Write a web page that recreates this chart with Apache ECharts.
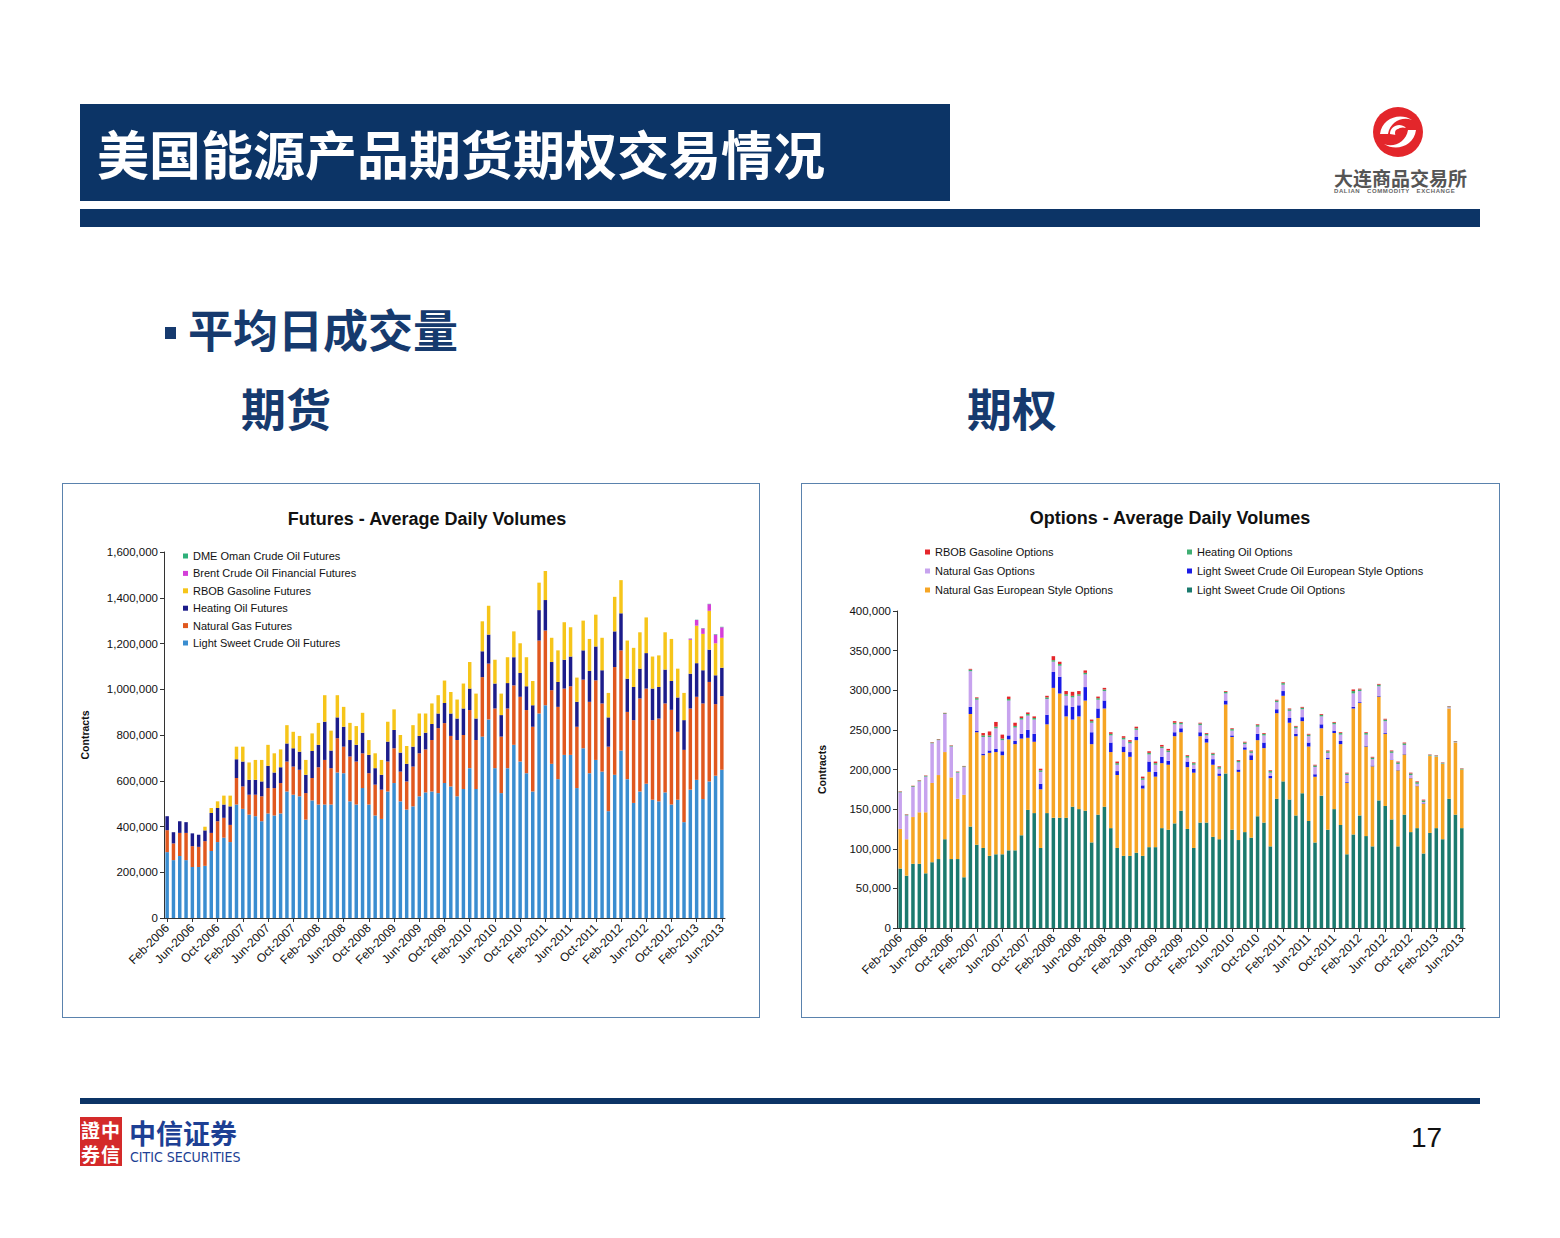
<!DOCTYPE html>
<html><head><meta charset="utf-8">
<script src="https://cdn.jsdelivr.net/npm/echarts/dist/echarts.min.js"></script>
<style>
body{margin:0;background:#fff;width:1560px;height:1238px;position:relative;overflow:hidden;font-family:"Liberation Sans",Arial,sans-serif}
.abs{position:absolute}
.cjk{font-family:"Noto Sans CJK SC",sans-serif}
#hdr{left:80px;top:104px;width:870px;height:97px;background:#0c3466}
#hdrTitle{left:97px;top:104px;height:97px;line-height:97px;color:#fff;font-size:52px;font-weight:700;white-space:nowrap}
#bar1{left:80px;top:209px;width:1400px;height:18px;background:#0c3466}
#bul{left:165px;top:327px;width:11px;height:12px;background:#163a6e}
.sub{color:#163a6e;font-size:45px;line-height:45px;font-weight:700;white-space:nowrap}
.frame{border:1.5px solid #5a82ad;box-sizing:border-box}
#foot{left:80px;top:1098px;width:1400px;height:6px;background:#0c3466}
</style></head><body>
<div id="hdr" class="abs"></div>
<div id="hdrTitle" class="abs cjk">美国能源产品期货期权交易情况</div>
<div id="bar1" class="abs"></div>
<svg class="abs" style="left:1370px;top:104px" width="56" height="56" viewBox="0 0 56 56">
<circle cx="28" cy="28" r="25" fill="#e3262b"/>
<path d="M10 30 C12 14 30 8 42 16 C32 12 20 18 18 30 Z" fill="#fff"/>
<path d="M46 26 C44 42 26 48 14 40 C24 44 36 38 38 26 Z" fill="#fff"/>
<path d="M20 30 C20 22 30 18 36 24 C30 22 25 26 26 31 Z" fill="#fff"/>
<circle cx="29" cy="29" r="4" fill="#e3262b"/>
</svg>
<div class="abs cjk" style="left:1334px;top:168px;font-size:19px;line-height:19px;font-weight:700;color:#555;white-space:nowrap">大连商品交易所</div>
<div class="abs" style="left:1334px;top:188px;font-size:6px;line-height:6px;font-weight:700;color:#666;white-space:nowrap;letter-spacing:0.6px">DALIAN&nbsp;&nbsp;&nbsp;COMMODITY&nbsp;&nbsp;&nbsp;EXCHANGE</div>
<div id="bul" class="abs"></div>
<div class="abs cjk sub" style="left:188px;top:306px">平均日成交量</div>
<div class="abs cjk sub" style="left:241px;top:385px">期货</div>
<div class="abs cjk sub" style="left:967px;top:385px">期权</div>
<div id="c1" class="abs frame" style="left:62px;top:483px;width:698px;height:535px"></div>
<div id="c2" class="abs frame" style="left:801px;top:483px;width:699px;height:535px"></div>
<div id="foot" class="abs"></div>
<div class="abs" style="left:80px;top:1117px;width:42px;height:49px;background:#d42a2a"></div>
<div class="abs cjk" style="left:81px;top:1118px;width:42px;font-size:19px;line-height:24px;color:#fff;font-weight:700;letter-spacing:1px">證中<br>券信</div>
<div class="abs cjk" style="left:129px;top:1119px;font-size:27px;line-height:28px;font-weight:700;color:#1d3f94;white-space:nowrap">中信证券</div>
<div class="abs" style="left:130px;top:1150px;font-size:14px;line-height:15px;color:#1d3f94;white-space:nowrap;font-family:'Liberation Sans Narrow','DejaVu Sans Condensed',sans-serif">CITIC SECURITIES</div>
<div class="abs" style="left:1411px;top:1122px;font-size:28px;color:#111">17</div>
<script>
// ---- categories / tick labels ----
var months = ["Feb-2006","Mar-2006","Apr-2006","May-2006","Jun-2006","Jul-2006","Aug-2006","Sep-2006","Oct-2006","Nov-2006","Dec-2006",
"Jan-2007","Feb-2007","Mar-2007","Apr-2007","May-2007","Jun-2007","Jul-2007","Aug-2007","Sep-2007","Oct-2007","Nov-2007","Dec-2007",
"Jan-2008","Feb-2008","Mar-2008","Apr-2008","May-2008","Jun-2008","Jul-2008","Aug-2008","Sep-2008","Oct-2008","Nov-2008","Dec-2008",
"Jan-2009","Feb-2009","Mar-2009","Apr-2009","May-2009","Jun-2009","Jul-2009","Aug-2009","Sep-2009","Oct-2009","Nov-2009","Dec-2009",
"Jan-2010","Feb-2010","Mar-2010","Apr-2010","May-2010","Jun-2010","Jul-2010","Aug-2010","Sep-2010","Oct-2010","Nov-2010","Dec-2010",
"Jan-2011","Feb-2011","Mar-2011","Apr-2011","May-2011","Jun-2011","Jul-2011","Aug-2011","Sep-2011","Oct-2011","Nov-2011","Dec-2011",
"Jan-2012","Feb-2012","Mar-2012","Apr-2012","May-2012","Jun-2012","Jul-2012","Aug-2012","Sep-2012","Oct-2012","Nov-2012","Dec-2012",
"Jan-2013","Feb-2013","Mar-2013","Apr-2013","May-2013","Jun-2013"];

// ---- Futures series (contracts / day) ----
var futLightSweet = [288000,253000,271000,253000,223000,223000,228000,293000,332000,351000,332000,496000,477000,452000,445000,423000,457000,448000,457000,553000,539000,532000,430000,514000,496000,496000,496000,636000,633000,510000,496000,568000,496000,448000,433000,553000,590000,510000,474000,488000,532000,549000,553000,546000,590000,575000,532000,564000,655000,564000,793000,868000,655000,546000,655000,757000,684000,633000,553000,894000,930000,674000,607000,713000,713000,568000,742000,633000,691000,640000,467000,626000,732000,607000,503000,553000,587000,517000,510000,549000,496000,517000,419000,561000,604000,520000,597000,622000,648000];
var futNaturalGas = [96000,73000,101000,119000,91000,88000,108000,79000,91000,87000,75000,116000,98000,87000,94000,109000,111000,120000,133000,131000,123000,116000,116000,98000,163000,195000,159000,150000,116000,196000,188000,152000,137000,135000,128000,131000,152000,130000,123000,174000,188000,188000,225000,284000,262000,221000,246000,236000,254000,214000,260000,244000,261000,247000,261000,260000,283000,276000,283000,319000,327000,322000,316000,290000,300000,268000,300000,312000,348000,298000,282000,471000,438000,294000,362000,407000,416000,348000,362000,389000,414000,297000,316000,355000,363000,418000,435000,313000,322000];
var futHeatingOil = [61000,49000,51000,47000,56000,53000,47000,87000,58000,58000,81000,82000,109000,65000,65000,65000,97000,68000,69000,79000,80000,79000,80000,118000,98000,167000,77000,91000,87000,72000,73000,90000,80000,72000,65000,87000,80000,83000,77000,87000,76000,73000,70000,64000,88000,98000,94000,116000,94000,94000,113000,127000,109000,94000,111000,123000,104000,104000,94000,133000,133000,123000,109000,126000,130000,109000,128000,135000,148000,145000,128000,156000,162000,145000,145000,130000,155000,138000,138000,148000,126000,150000,130000,152000,147000,145000,141000,126000,124000];
var futRbob = [0,0,0,0,0,0,16000,22000,29000,39000,47000,55000,65000,76000,87000,94000,92000,84000,78000,80000,72000,69000,65000,77000,96000,116000,87000,97000,87000,75000,82000,87000,65000,65000,65000,87000,90000,77000,78000,94000,98000,84000,90000,80000,98000,94000,83000,109000,116000,109000,131000,126000,104000,94000,113000,113000,130000,127000,106000,120000,127000,106000,138000,164000,128000,106000,130000,140000,139000,142000,107000,151000,145000,167000,171000,159000,156000,140000,138000,163000,184000,126000,119000,148000,164000,159000,170000,140000,131000];
var futBrent = [0,0,0,0,0,0,0,0,0,0,0,0,0,0,0,0,0,0,0,0,0,0,0,0,0,0,0,0,0,0,0,0,0,0,0,0,0,0,0,0,0,0,0,0,0,0,0,0,0,0,0,0,0,0,0,0,0,0,0,0,0,0,0,0,0,0,0,0,0,0,0,0,0,0,0,0,0,0,0,0,0,0,0,5000,25000,24000,29000,38000,46000];
var futDmeOman = [0,0,0,0,0,0,0,0,0,0,0,0,0,0,0,0,0,0,0,0,0,0,0,0,0,0,0,0,0,0,0,0,0,0,0,0,0,0,0,0,0,0,0,0,0,0,0,0,0,0,0,0,0,0,0,0,0,0,0,0,0,0,0,0,0,0,0,0,0,0,0,0,0,0,0,0,0,0,0,0,0,0,0,1000,1000,1500,1500,2000,2000];

// ---- Options series (contracts / day) ----
var optLightSweet = [75000,66000,81000,81000,69000,83000,87000,112000,87000,87000,64000,128000,105000,101000,91000,93000,93000,98000,98000,117000,149000,145000,101000,145000,139000,139000,139000,153000,150000,148000,108000,143000,153000,126000,101000,91000,91000,95000,91000,102000,102000,126000,124000,132000,148000,125000,101000,133000,133000,115000,112000,195000,124000,111000,121000,114000,141000,133000,103000,163000,185000,162000,142000,170000,135000,108000,167000,124000,150000,130000,93000,118000,142000,116000,103000,161000,154000,137000,103000,143000,121000,126000,94000,120000,126000,112000,163000,143000,126000];
var optNgEuro = [50000,46000,59000,65000,77000,100000,106000,110000,103000,76000,104000,142000,142000,117000,130000,129000,125000,140000,134000,122000,91000,90000,74000,112000,164000,157000,128000,110000,117000,139000,124000,122000,124000,96000,92000,131000,125000,142000,85000,95000,89000,82000,82000,110000,99000,78000,95000,109000,101000,91000,80000,87000,117000,86000,104000,98000,96000,94000,86000,108000,108000,97000,100000,91000,94000,83000,85000,89000,96000,102000,90000,159000,142000,113000,101000,131000,91000,75000,96000,76000,68000,53000,63000,97000,90000,95000,114000,91000,74000];
var optLsEuro = [0,0,0,0,0,0,0,0,0,0,0,9000,2000,2000,3000,4000,5000,5000,4000,6000,10000,10000,7000,12000,20000,21000,14000,16000,14000,17000,15000,12000,10000,12000,5000,7000,6000,4000,4000,13000,6000,8000,5000,5000,5000,7000,5000,5000,5000,7000,3000,5000,2000,3000,3000,6000,8000,7000,3000,5000,6000,6000,3000,5000,5000,3000,5000,2000,3000,4000,1000,2000,1000,1000,1000,1000,1000,500,500,500,500,500,500,0,0,0,0,0,0];
var optNgOptions = [46000,30000,38000,39000,45000,50000,44000,48000,39000,33000,35000,45000,39000,21000,17000,26000,14000,44000,17000,18000,18000,18000,15000,20000,13000,14000,12000,12000,12000,16000,12000,11000,12000,9000,8000,9000,11000,9000,7000,9000,9000,11000,11000,10000,5000,5000,5000,9000,4000,5000,6000,9000,6000,9000,4000,3000,9000,9000,4000,9000,8000,9000,7000,10000,8000,9000,10000,6000,8000,8000,9000,17000,14000,14000,8000,12000,15000,8500,7500,11500,3500,2500,1500,500,500,500,1500,500,0];
var optHeatingOil = [1000,1000,1000,1000,1000,1000,1000,1000,1000,1000,1000,2000,2000,2000,2000,2000,2000,2000,2000,2000,2000,2000,2000,2000,2000,2000,2000,2000,2000,2000,2000,2000,2000,2000,2000,2000,2000,2000,2000,2000,2000,2000,2000,2000,2000,2000,2000,2000,2000,2000,2000,2000,2000,2000,2000,2000,2000,2000,2000,2000,2000,2000,2000,2000,2000,2000,2000,2000,2000,2000,2000,3000,2000,2000,2000,2000,2000,2000,2000,2000,2000,2000,2000,1000,1000,1000,1000,1000,1000];
var optRbob = [500,500,500,500,500,500,500,500,500,500,500,1000,1000,3000,5000,6000,5000,3000,4000,2000,2000,2000,2000,2000,5000,3000,4000,5000,4000,3000,2000,2000,2000,2000,2000,2000,2000,2000,2000,2000,2000,2000,2000,2000,1000,1000,1000,1000,1000,1000,1000,1000,1000,1000,1000,1000,1000,1000,1000,1000,1000,1000,1000,1000,1000,1000,1000,1000,1000,1000,1000,2000,1000,1000,1000,1000,1000,1000,1000,1000,1000,1000,1000,500,500,500,500,500,500];

var futTicks = [0,200000,400000,600000,800000,1000000,1200000,1400000,1600000];
var optTicks = [0,50000,100000,150000,200000,250000,300000,350000,400000];

var FONT = '"Liberation Sans", Arial, sans-serif';
function fmt(v){ return v.toLocaleString('en-US'); }

function xAxisCfg(){
  return {
    type:'category', data:months,
    axisLine:{show:true, lineStyle:{color:'#333', width:1}},
    axisTick:{show:true, interval:3, alignWithLabel:true, length:4, lineStyle:{color:'#333'}},
    axisLabel:{interval:3, rotate:45, fontSize:12, color:'#111', fontFamily:FONT, margin:8}
  };
}
function yAxisCfg(ticks, gap){
  return {
    type:'value', min:ticks[0], max:ticks[ticks.length-1], interval:ticks[1]-ticks[0],
    name:'Contracts', nameLocation:'middle', nameRotate:90, nameGap:gap,
    nameTextStyle:{fontSize:10.5, fontWeight:'bold', color:'#111', fontFamily:FONT},
    axisLine:{show:true, lineStyle:{color:'#333', width:1}},
    axisTick:{show:true, length:4, lineStyle:{color:'#333'}},
    splitLine:{show:false},
    axisLabel:{fontSize:11.5, color:'#111', fontFamily:FONT, margin:6, formatter:fmt}
  };
}
function bar(name, data, color){
  return {name:name, type:'bar', stack:'s', data:data, barWidth:'55%',
    itemStyle:{color:color}, emphasis:{disabled:true}};
}
var legStyle = {fontSize:11, lineHeight:12, color:'#111', fontFamily:FONT};

var c1 = echarts.init(document.getElementById('c1'), null, {renderer:'svg'});
c1.setOption({
  animation:false,
  graphic:[{type:'text', x:364, y:35, style:{text:'Futures - Average Daily Volumes', textAlign:'center', textVerticalAlign:'middle', font:'bold 18px "Liberation Sans", Arial, sans-serif', fill:'#111'}}],
  grid:{left:101, right:34, top:68, bottom:99},
  legend:{orient:'vertical', left:115, top:61, icon:'rect', itemWidth:5, itemHeight:5, itemGap:5.4,
    textStyle:legStyle,
    data:['DME Oman Crude Oil Futures','Brent Crude Oil Financial Futures','RBOB Gasoline Futures','Heating Oil Futures','Natural Gas Futures','Light Sweet Crude Oil Futures']},
  xAxis:xAxisCfg(),
  yAxis:yAxisCfg(futTicks, 74),
  series:[
    bar('Light Sweet Crude Oil Futures', futLightSweet, '#3a8dd0'),
    bar('Natural Gas Futures', futNaturalGas, '#e0581f'),
    bar('Heating Oil Futures', futHeatingOil, '#1c1c8a'),
    bar('RBOB Gasoline Futures', futRbob, '#f6c51a'),
    bar('Brent Crude Oil Financial Futures', futBrent, '#d43fd9'),
    bar('DME Oman Crude Oil Futures', futDmeOman, '#2eb07a')
  ]
});

var c2 = echarts.init(document.getElementById('c2'), null, {renderer:'svg'});
c2.setOption({
  animation:false,
  graphic:[{type:'text', x:368, y:34, style:{text:'Options - Average Daily Volumes', textAlign:'center', textVerticalAlign:'middle', font:'bold 18px "Liberation Sans", Arial, sans-serif', fill:'#111'}}],
  grid:{left:95, right:34, top:127, bottom:89},
  legend:[
    {orient:'vertical', left:118, top:57, icon:'rect', itemWidth:5, itemHeight:5, itemGap:7, textStyle:legStyle,
     data:['RBOB Gasoline Options','Natural Gas Options','Natural Gas European Style Options']},
    {orient:'vertical', left:380, top:57, icon:'rect', itemWidth:5, itemHeight:5, itemGap:7, textStyle:legStyle,
     data:['Heating Oil Options','Light Sweet Crude Oil European Style Options','Light Sweet Crude Oil Options']}
  ],
  xAxis:xAxisCfg(),
  yAxis:yAxisCfg(optTicks, 70),
  series:[
    bar('Light Sweet Crude Oil Options', optLightSweet, '#1b7a6e'),
    bar('Natural Gas European Style Options', optNgEuro, '#f6a524'),
    bar('Light Sweet Crude Oil European Style Options', optLsEuro, '#1a1ae6'),
    bar('Natural Gas Options', optNgOptions, '#c7a3ee'),
    bar('Heating Oil Options', optHeatingOil, '#3fae72'),
    bar('RBOB Gasoline Options', optRbob, '#e5262b')
  ]
});
</script>
</body></html>
